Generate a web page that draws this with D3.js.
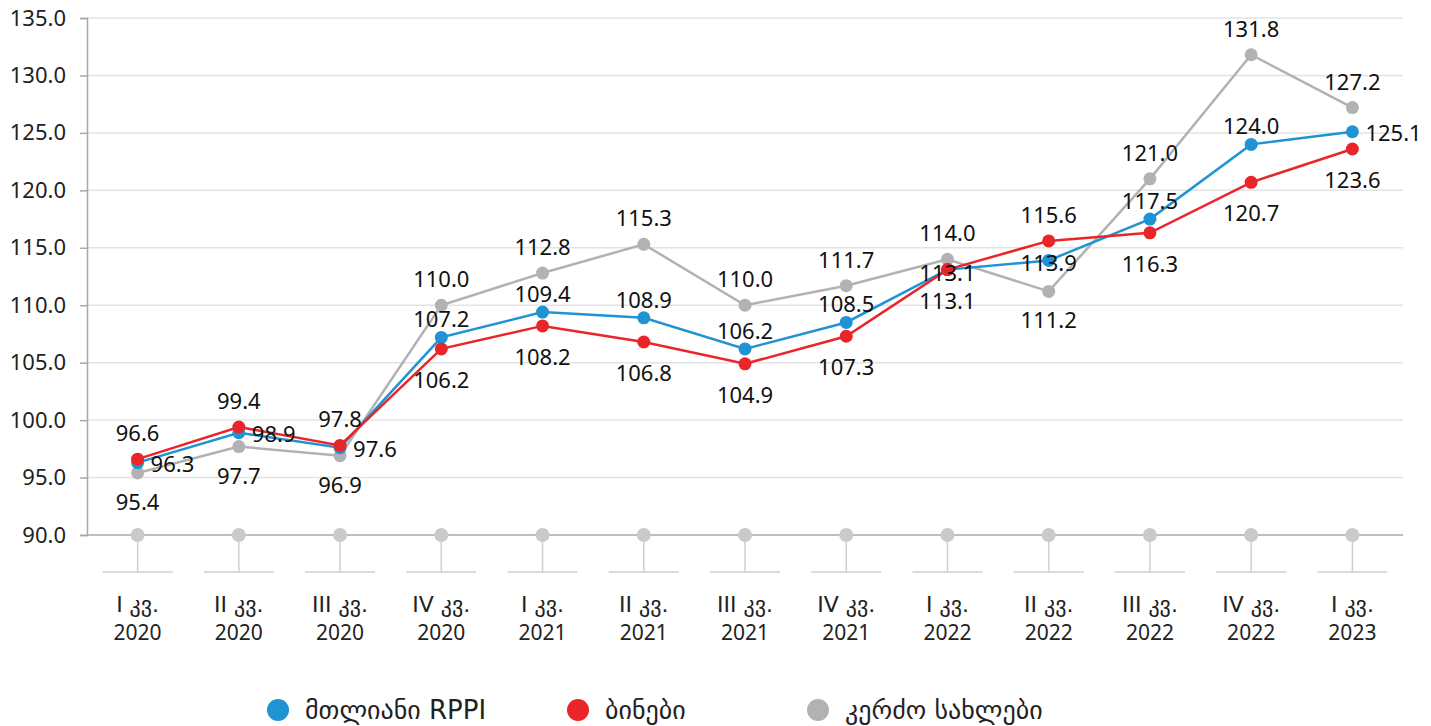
<!DOCTYPE html>
<html>
<head>
<meta charset="utf-8">
<script src="https://cdn.jsdelivr.net/npm/d3@7"></script>
<style>
  html, body { margin: 0; padding: 0; background: #fff; }
  svg { display: block; font-family: "Noto Sans", "DejaVu Sans", sans-serif; }
  .geo { font-family: "DejaVu Sans", sans-serif; }
</style>
</head>
<body>
<svg id="chart" width="1431" height="726"></svg>
<script>
// quarterly residential property price index, three series
const QUARTERS = ['I კვ.', 'II კვ.', 'III კვ.', 'IV კვ.', 'I კვ.', 'II კვ.', 'III კვ.', 'IV კვ.',
  'I კვ.', 'II კვ.', 'III კვ.', 'IV კვ.', 'I კვ.'];
const YEARS = ['2020', '2020', '2020', '2020', '2021', '2021', '2021', '2021',
  '2022', '2022', '2022', '2022', '2023'];

const TOTAL = [96.3, 98.9, 97.6, 107.2, 109.4, 108.9, 106.2, 108.5, 113.1, 113.9, 117.5, 124.0, 125.1];
const FLATS = [96.6, 99.4, 97.8, 106.2, 108.2, 106.8, 104.9, 107.3, 113.1, 115.6, 116.3, 120.7, 123.6];
const HOUSES = [95.4, 97.7, 96.9, 110.0, 112.8, 115.3, 110.0, 111.7, 114.0, 111.2, 121.0, 131.8, 127.2];

// where each data label sits relative to its point
const TOTAL_LBL = ['r', 'r', 'r', 't', 't', 't', 't', 't', 'c', 'c', 't', 't', 'r'];
const FLATS_LBL = ['t', 't', 't', 'b', 'b', 'b', 'b', 'b', 'b', 't', 'b', 'b', 'b'];
const HOUSES_LBL = ['b', 'b', 'b', 't', 't', 't', 't', 't', 't', 'b', 't', 't', 't'];

const Y_TICKS = [90, 95, 100, 105, 110, 115, 120, 125, 130, 135];

const SERIES = [
  { name: 'კერძო სახლები', values: HOUSES, labels: HOUSES_LBL, color: '#b2b2b4', up: -27, down: 28 },
  { name: 'მთლიანი RPPI', values: TOTAL, labels: TOTAL_LBL, color: '#1f93d3', up: -19, down: 28 },
  { name: 'ბინები', values: FLATS, labels: FLATS_LBL, color: '#e9252a', up: -27, down: 30 },
];
const LEGEND = [SERIES[1], SERIES[2], SERIES[0]];

const svg = d3.select('#chart');
const margin = { left: 87, right: 28, top: 18, bottom: 191 };
const W = 1431, H = 726;

const x = d3.scaleBand().domain(d3.range(QUARTERS.length))
  .range([margin.left, W - margin.right]);
const cx = (i) => x(i) + x.bandwidth() / 2;
const y = d3.scaleLinear().domain([90, 135]).range([H - margin.bottom, margin.top]);

// grid
svg.append('g').selectAll('line').data(Y_TICKS.slice(1)).join('line')
  .attr('x1', margin.left).attr('x2', W - margin.right)
  .attr('y1', (d) => y(d)).attr('y2', (d) => y(d))
  .attr('stroke', '#e3e3e3').attr('stroke-width', 1.5);

// y axis
const yAxis = svg.append('g').attr('transform', `translate(${margin.left},0)`)
  .call(d3.axisLeft(y).tickValues(Y_TICKS).tickSize(7).tickPadding(14).tickFormat(d3.format('.1f')));
yAxis.select('.domain').attr('stroke', '#a8a8a8').attr('stroke-width', 1.5);
yAxis.selectAll('.tick line').attr('stroke', '#a8a8a8').attr('stroke-width', 1.5);
yAxis.selectAll('.tick text').attr('font-size', 22).attr('fill', '#222')
  .attr('font-family', '"Noto Sans", "DejaVu Sans", sans-serif');

// baseline
svg.append('line')
  .attr('x1', margin.left).attr('x2', W - margin.right)
  .attr('y1', y(90)).attr('y2', y(90))
  .attr('stroke', '#a8a8a8').attr('stroke-width', 1.5);

// category stems and markers on the baseline
const cat = svg.append('g').selectAll('g').data(QUARTERS).join('g')
  .attr('transform', (d, i) => `translate(${cx(i)},0)`);
cat.append('line').attr('x1', 0).attr('x2', 0)
  .attr('y1', y(90)).attr('y2', y(90) + 37)
  .attr('stroke', '#cfcfcf').attr('stroke-width', 1.5);
cat.append('line').attr('x1', -35).attr('x2', 35)
  .attr('y1', y(90) + 37).attr('y2', y(90) + 37)
  .attr('stroke', '#cfcfcf').attr('stroke-width', 1.5);
cat.append('circle').attr('cx', 0).attr('cy', y(90)).attr('r', 7).attr('fill', '#cacaca');
cat.append('text').attr('class', 'geo').attr('y', y(90) + 77).attr('text-anchor', 'middle')
  .attr('font-size', 22).attr('fill', '#222').text((d) => d);
cat.append('text').attr('y', y(90) + 105).attr('text-anchor', 'middle')
  .attr('font-size', 21).attr('fill', '#222').text((d, i) => YEARS[i]);

// series
const line = d3.line().x((d, i) => cx(i)).y((d) => y(d));
SERIES.forEach((s) => {
  const g = svg.append('g');
  g.append('path').datum(s.values).attr('d', line)
    .attr('fill', 'none').attr('stroke', s.color).attr('stroke-width', 2.5);
  g.selectAll('circle').data(s.values).join('circle')
    .attr('cx', (d, i) => cx(i)).attr('cy', (d) => y(d)).attr('r', 6.5)
    .attr('fill', s.color);
});

// data labels on top
SERIES.forEach((s) => {
  svg.append('g').selectAll('text').data(s.values).join('text')
    .attr('font-size', 22).attr('fill', '#111').attr('dominant-baseline', 'central')
    .attr('text-anchor', (d, i) => (s.labels[i] === 'r' ? 'start' : 'middle'))
    .attr('x', (d, i) => (s.labels[i] === 'r' ? cx(i) + 13 : cx(i)))
    .attr('y', (d, i) => {
      const p = s.labels[i];
      if (p === 't') return y(d) + s.up;
      if (p === 'b') return y(d) + s.down;
      if (p === 'c') return y(d) + 2;
      return y(d);
    })
    .text((d) => d3.format('.1f')(d));
});

// legend
const legendX = [278, 578, 818];
const lg = svg.append('g').selectAll('g').data(LEGEND).join('g')
  .attr('transform', (d, i) => `translate(${legendX[i]},710)`);
lg.append('circle').attr('r', 11).attr('fill', (d) => d.color);
lg.append('text').attr('class', 'geo').attr('x', 27).attr('dominant-baseline', 'central')
  .attr('font-size', 26).attr('fill', '#222').text((d) => d.name);
</script>
</body>
</html>
